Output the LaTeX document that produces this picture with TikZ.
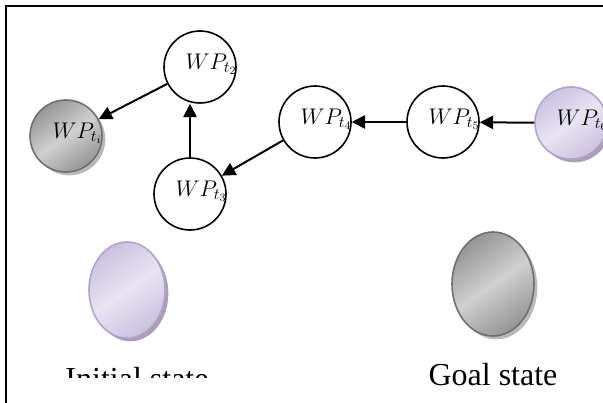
\documentclass[tikz,border=0pt]{standalone}
\usepackage{fix-cm}
\usepackage{fontspec}
\setmainfont{Liberation Serif}
\usetikzlibrary{arrows.meta,shapes.geometric,shadows}

\definecolor{grayedge}{RGB}{112,112,112}
\definecolor{graydark}{RGB}{150,150,150}
\definecolor{graylight}{RGB}{208,208,208}
\definecolor{grayshadow}{RGB}{185,185,185}
\definecolor{lilacedge}{RGB}{178,163,207}
\definecolor{lilacdark}{RGB}{204,194,224}
\definecolor{lilaclight}{RGB}{232,228,242}
\definecolor{lilacshadow}{RGB}{170,160,182}

\tikzstyle{wp}=[circle, draw, line width=1.2pt, minimum size=54pt, inner sep=0pt]
\tikzstyle{wpgray}=[wp, draw=grayedge, top color=graydark, bottom color=graydark,
  middle color=graylight, shading angle=35,
  drop shadow={shadow xshift=2.5pt, shadow yshift=-2.5pt, fill=grayshadow, opacity=1}]
\tikzstyle{wplilac}=[wp, draw=lilacedge, top color=lilacdark, bottom color=lilacdark,
  middle color=lilaclight, shading angle=35,
  drop shadow={shadow xshift=2.5pt, shadow yshift=-2.5pt, fill=lilacshadow, opacity=1}]
\tikzstyle{wptext}=[xshift=8.5pt, yshift=2pt, font=\fontsize{17}{20}\selectfont]
\tikzstyle{state}=[ellipse, line width=1.2pt, inner sep=0pt]
\tikzstyle{statetext}=[anchor=base, font=\fontsize{24}{28}\selectfont]
\tikzstyle{dgraph}=[line width=1.5pt, -{Triangle[length=10pt,width=10pt]}]

\begin{document}
\begin{tikzpicture}[x=0.75pt, y=-0.75pt]
\clip (0,0) rectangle (603,403);
% frame
\draw[line width=1.5pt] (6,403) -- (6,6) -- (603,6);

% way points
\node[wpgray, label={[wptext]center:$WP_{t_i}$}] (ti) at (66,136) {};
\node[wp, label={[wptext]center:$WP_{t_2}$}] (t2) at (200,67) {};
\node[wp, label={[wptext]center:$WP_{t_3}$}] (t3) at (190,194) {};
\node[wp, label={[wptext]center:$WP_{t_4}$}] (t4) at (315,122) {};
\node[wp, label={[wptext]center:$WP_{t_5}$}] (t5) at (443,122) {};
\node[wplilac, label={[wptext]center:$WP_{t_6}$}] (t6) at (571,123) {};

\draw[dgraph] (t2) -- (ti);
\draw[dgraph] (t3) -- (t3 |- t2.south);
\draw[dgraph] (t4) -- (t3);
\draw[dgraph] (t5) -- (t4);
\draw[dgraph] (t6) -- (t5);

% legend
\node[wplilac, state, minimum width=57pt, minimum height=72pt] (init) at (127,290) {};
\node[wpgray, state, minimum width=61.5pt, minimum height=78pt] (goal) at (493,284) {};
\begin{scope}
\clip (0,0) rectangle (603,377);
\node[statetext] (initlbl) at (137,389) {Initial state};
\end{scope}
\node[statetext] (goallbl) at (493,385) {Goal state};
\end{tikzpicture}
\end{document}
